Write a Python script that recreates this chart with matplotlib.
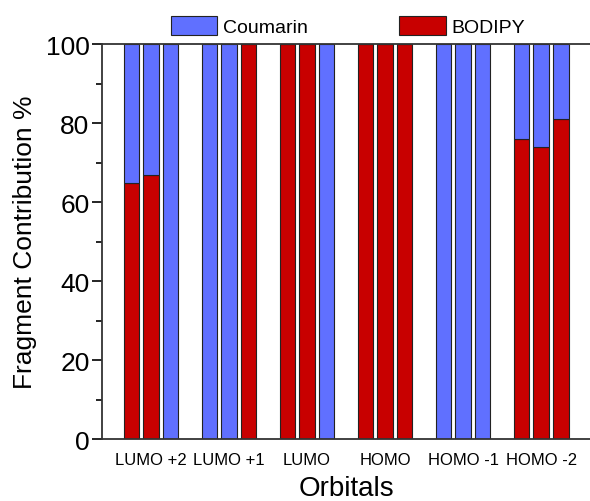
import matplotlib
matplotlib.use("Agg")
import matplotlib.pyplot as plt
from matplotlib.ticker import MultipleLocator
import numpy as np

plt.rcParams['font.family'] = ['Liberation Sans', 'DejaVu Sans']

orbitals = ["LUMO +2", "LUMO +1", "LUMO", "HOMO", "HOMO -1", "HOMO -2"]
# BODIPY share (%) for the three bars in every orbital group; coumarin is the rest
bodipy = [[65, 67, 0],
          [0, 0, 100],
          [100, 100, 0],
          [100, 100, 100],
          [0, 0, 0],
          [76, 74, 81]]
coumarin = [[100 - v for v in grp] for grp in bodipy]

blue = "#6070FF"
red = "#C80000"

fig = plt.figure(figsize=(5.9, 5.02), dpi=100)
ax = fig.add_axes([0.173, 0.1235, 0.827, 0.786])

x = []
b_vals = []
c_vals = []
for g in range(len(orbitals)):
    for j in range(3):
        x.append(4 * g + j - 1)
        b_vals.append(bodipy[g][j])
        c_vals.append(coumarin[g][j])
x = np.array(x)

ax.bar(x, b_vals, width=0.8, color=red, edgecolor="#222222", linewidth=0.8, label="BODIPY")
ax.bar(x, c_vals, width=0.8, bottom=b_vals, color=blue, edgecolor="#222222", linewidth=0.8,
       label="Coumarin")

ax.set_xlim(-2.5, 22.5)
ax.set_ylim(0, 100)
ax.set_xticks([4 * g for g in range(len(orbitals))])
ax.set_xticklabels(orbitals, fontsize=12)
ax.tick_params(axis="x", length=0, pad=9)
ax.yaxis.set_major_locator(MultipleLocator(20))
ax.yaxis.set_minor_locator(MultipleLocator(10))
ax.tick_params(axis="y", which="major", length=7, width=1.2, labelsize=19, pad=2)
ax.tick_params(axis="y", which="minor", length=4, width=1.2)

for s in ["left", "top", "bottom"]:
    ax.spines[s].set_linewidth(1.3)
    ax.spines[s].set_color("#333333")
ax.spines["right"].set_visible(False)

ax.set_xlabel("Orbitals", fontsize=20, labelpad=6)
ax.set_ylabel("Fragment Contribution %", fontsize=19, labelpad=6)

h, l = ax.get_legend_handles_labels()
fig.legend(h[::-1], l[::-1], loc="center", bbox_to_anchor=(0.59, 0.947), ncol=2,
           frameon=False, fontsize=14, handlelength=2.37, handleheight=1.13,
           handletextpad=0.3, columnspacing=4.7, borderaxespad=0)

fig.savefig("out.png", dpi=100)
